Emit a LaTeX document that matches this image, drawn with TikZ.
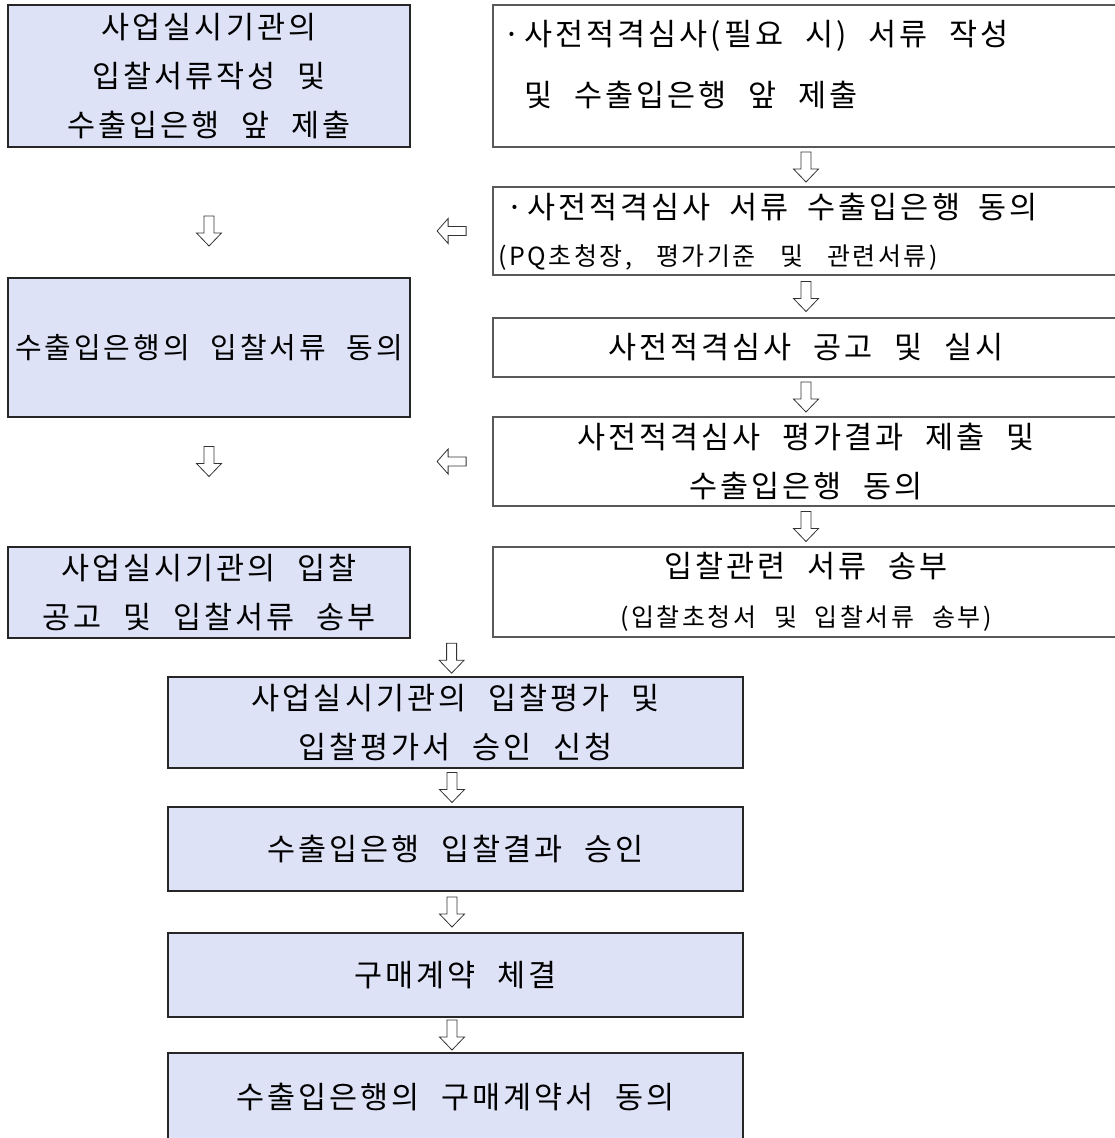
\documentclass[tikz,border=0pt]{standalone}
\usepackage{fontspec}
\setmainfont{Noto Sans CJK KR}[WordSpace=2.2, LetterSpace=10]
\usetikzlibrary{calc}

\definecolor{boxfill}{RGB}{222,226,246}
\newcommand{\smallfont}{\fontsize{25}{30}\selectfont}

\tikzset{
	bluebox/.style={draw=black!85, line width=1.6pt, fill=boxfill, inner sep=0pt, align=center, font=\fontsize{30.5}{49}\selectfont},
	whitebox/.style={draw=black!65, line width=1.2pt, inner sep=0pt, align=center, font=\fontsize{30.5}{49}\selectfont},
	arrowline/.style={draw=black!80, line width=0.8pt, fill=white, line join=miter},
	downarr/.pic={\path[arrowline] (-5,-15) -- (5,-15) -- (5,2) -- (12.5,2) -- (0,15) -- (-12.5,2) -- (-5,2) -- cycle;},
	leftarr/.pic={\path[arrowline] (-14.5,0) -- (-3.5,-12.5) -- (-3.5,-4.5) -- (14.5,-4.5) -- (14.5,4.5) -- (-3.5,4.5) -- (-3.5,12.5) -- cycle;}
}

\begin{document}
\begin{tikzpicture}[x=1pt, y=-1pt]
	\useasboundingbox (0,0) rectangle (1115,1138);

	% left column
	\node[bluebox, minimum width=402, minimum height=142] (l1) at (209,76) {사업실시기관의\\입찰서류작성 및\\수출입은행 앞 제출};
	\node[bluebox, minimum width=402, minimum height=139, font=\fontsize{29}{49}\selectfont] (l2) at (209,347.5) {수출입은행의 입찰서류 동의};
	\node[bluebox, minimum width=402, minimum height=91] (l3) at (209,592.5) {사업실시기관의 입찰\\공고 및 입찰서류 송부};

	% right column
	\node[whitebox, minimum width=626, minimum height=142] (r1) at (806,76) {};
	\node[anchor=north west, inner sep=0pt, align=left, font=\fontsize{30.5}{61}\selectfont] (r1text) at (503,20) {·\hspace{4pt}사전적격심사(필요 시) 서류 작성\\\phantom{·}\hspace{4pt}및 수출입은행 앞 제출};
	\node[whitebox, minimum width=626, minimum height=88] (r2) at (806,231) {};
	\node[anchor=west, inner sep=0pt, align=left, font=\fontsize{30.5}{49}\selectfont] (r2text) at (498,232) {\hspace{8pt}·\hspace{4pt}사전적격심사\hspace{-3pt} 서류\hspace{-3pt} 수출입은행\hspace{-3pt} 동의\\[-2pt]{\smallfont (PQ초청장,\hspace{6.5pt} 평가기준\hspace{6.5pt} 및\hspace{6.5pt} 관련서류)}};
	\node[whitebox, minimum width=626, minimum height=59] (r3) at (806,347.5) {사전적격심사 공고 및 실시};
	\node[whitebox, minimum width=626, minimum height=89] (r4) at (806,461.5) {사전적격심사 평가결과 제출 및\\수출입은행 동의};
	\node[whitebox, minimum width=626, minimum height=90] (r5) at (806,592) {입찰관련 서류 송부\\{\smallfont (입찰초청서 및 입찰서류 송부)}};

	% center column
	\node[bluebox, minimum width=575, minimum height=91] (c1) at (455.5,722.5) {사업실시기관의 입찰평가 및\\입찰평가서 승인 신청};
	\node[bluebox, minimum width=575, minimum height=84] (c2) at (455.5,849) {수출입은행 입찰결과 승인};
	\node[bluebox, minimum width=575, minimum height=84] (c3) at (455.5,975) {구매계약 체결};
	\node[bluebox, minimum width=575, minimum height=88] (c4) at (455.5,1097) {수출입은행의 구매계약서 동의};

	% arrows
	\pic at ($(r1.south)!0.5!(r2.north)$) {downarr};
	\pic at ($(r2.south)!0.5!(r3.north)$) {downarr};
	\pic at ($(r3.south)!0.5!(r4.north)$) {downarr};
	\pic at ($(r4.south)!0.5!(r5.north)$) {downarr};
	\pic at (l1.south |- r2.west) {downarr};
	\pic at (l2.south |- r4.west) {downarr};
	\pic at ($(l2.east |- r2.west)!0.5!(r2.west)$) {leftarr};
	\pic at ($(l2.east |- r4.west)!0.5!(r4.west)$) {leftarr};
	\pic at ($(l3.south east)!0.5!(r5.south west) + (0,20)$) {downarr};
	\pic at ($(c1.south)!0.5!(c2.north) + (-3.5,0)$) {downarr};
	\pic at ($(c2.south)!0.5!(c3.north) + (-3.5,0)$) {downarr};
	\pic at ($(c3.south)!0.5!(c4.north) + (-3.5,0)$) {downarr};

\end{tikzpicture}
\end{document}
